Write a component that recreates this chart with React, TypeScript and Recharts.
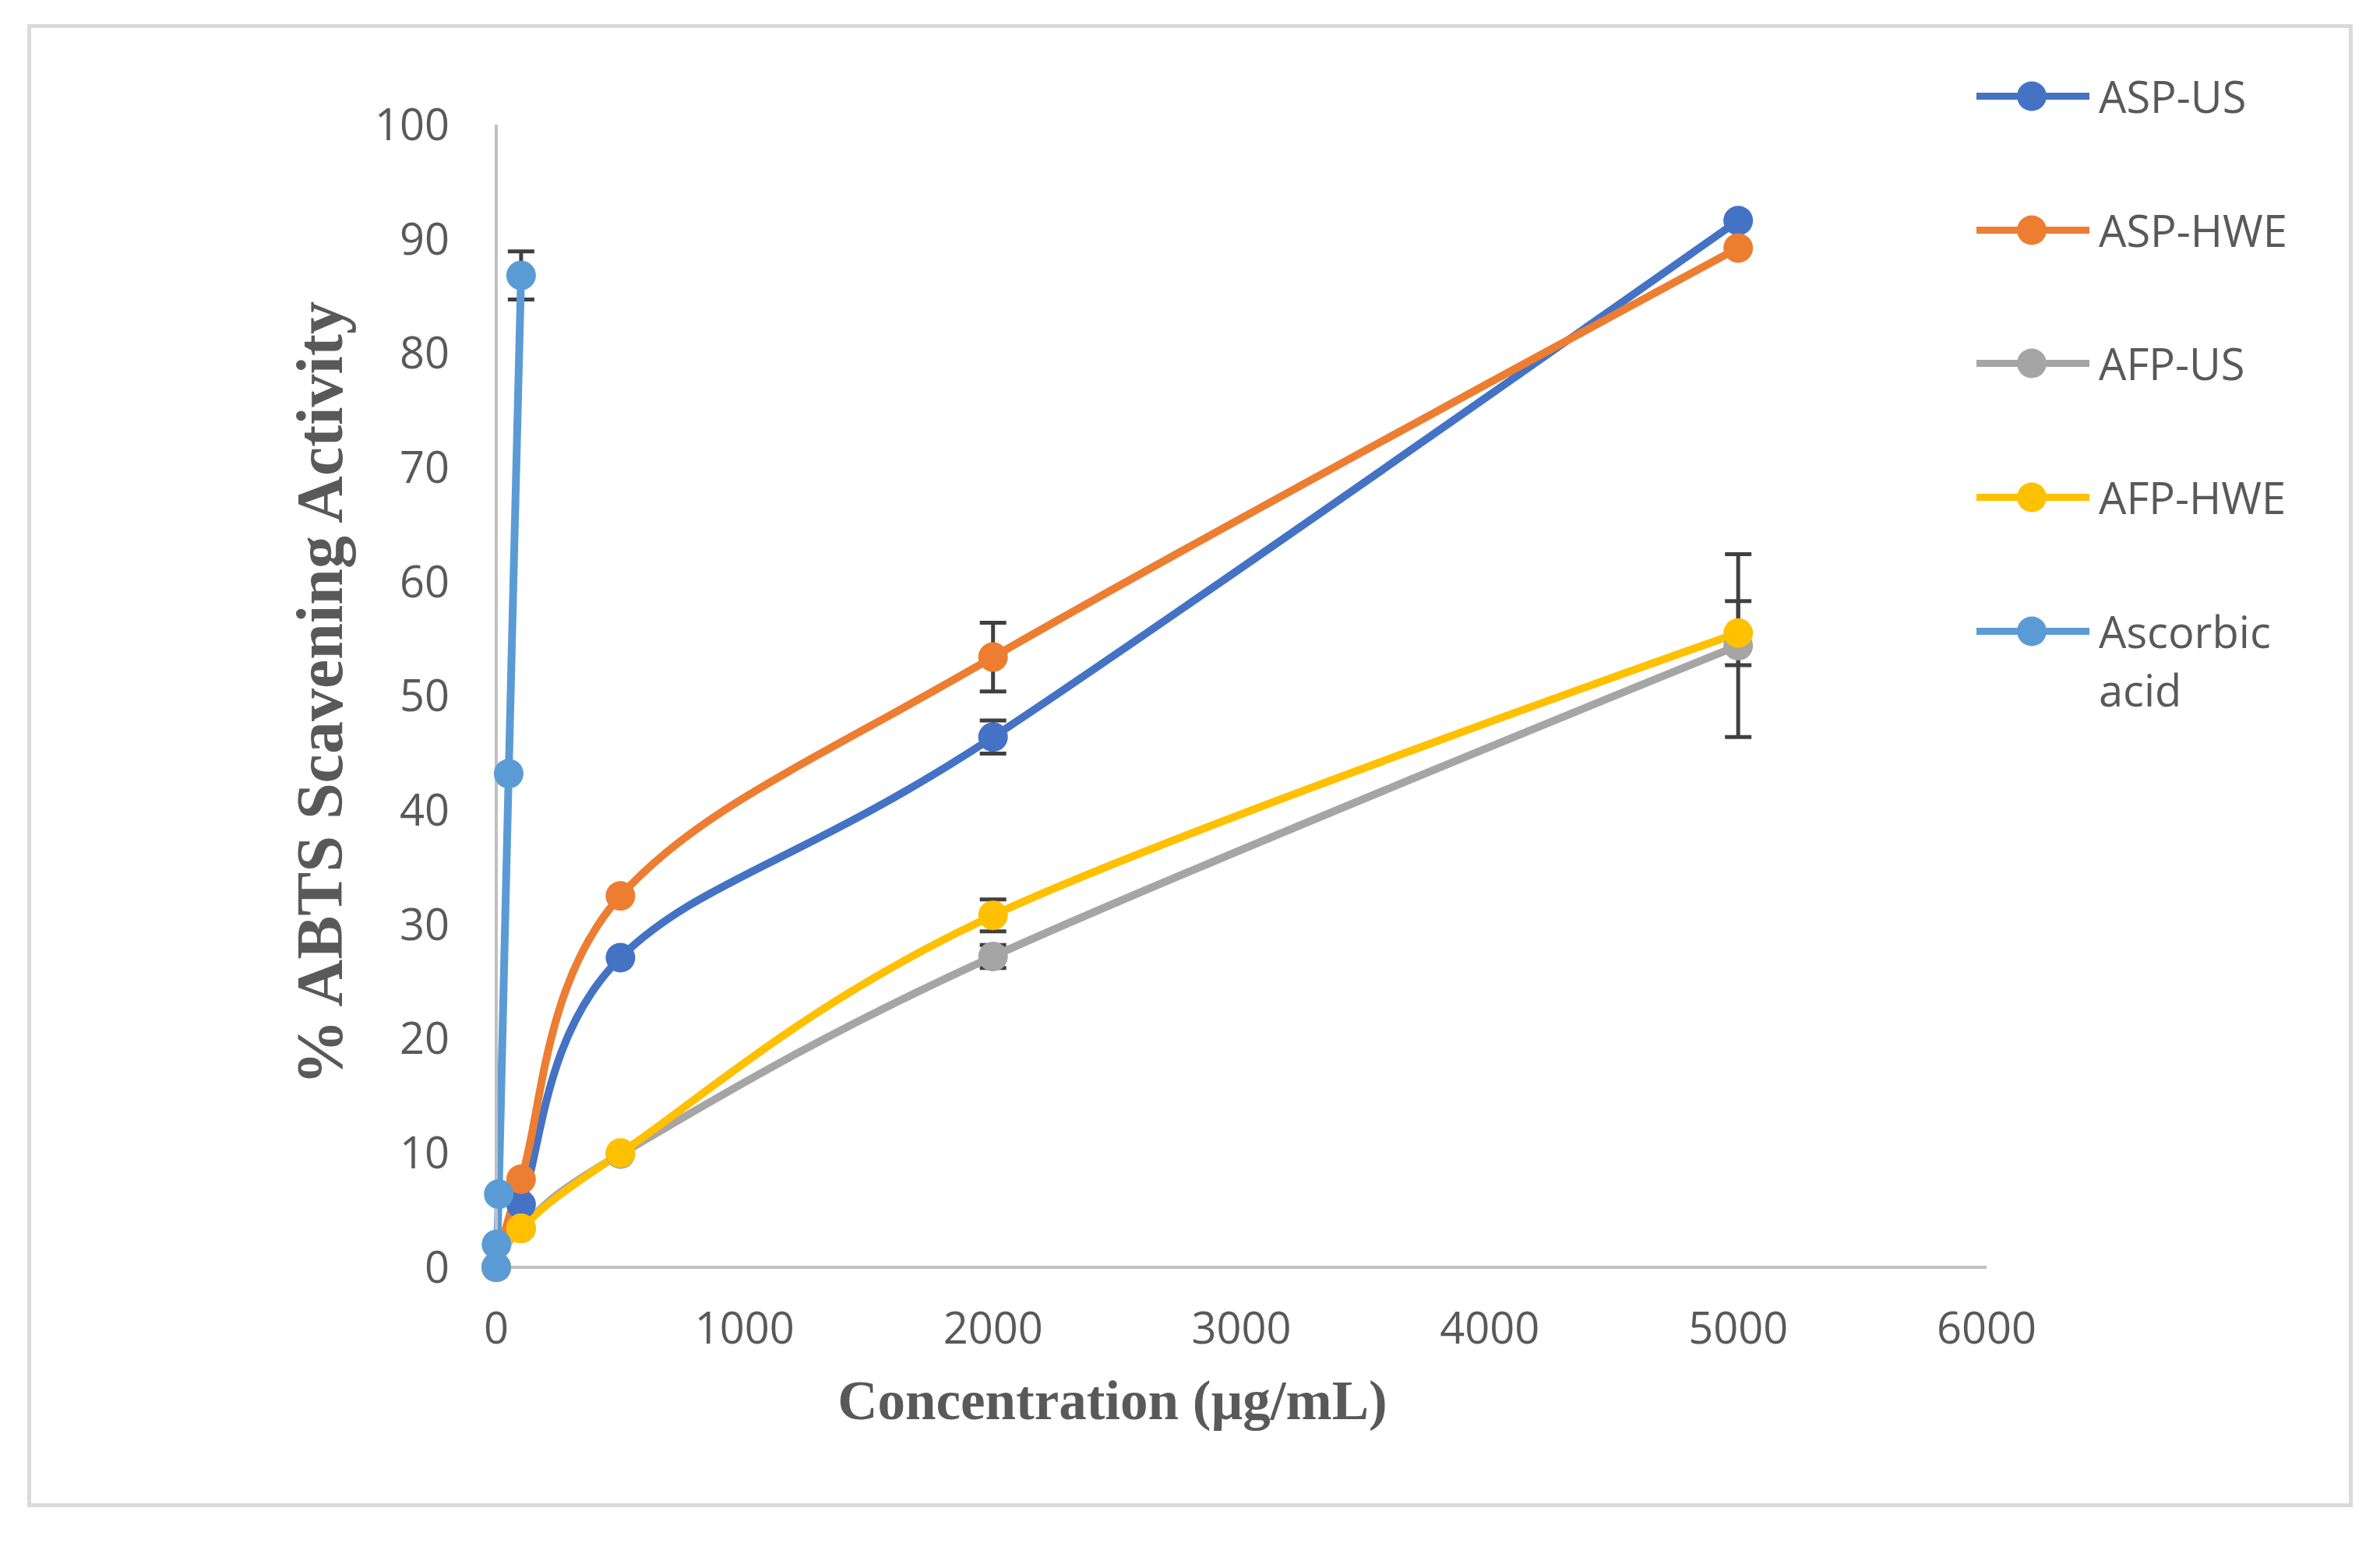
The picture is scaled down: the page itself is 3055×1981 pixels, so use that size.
import React from 'react';
import {
  LineChart,
  Line,
  XAxis,
  YAxis,
  ErrorBar,
  Legend,
  Label,
} from 'recharts';

// concentrations (µg/mL)
const sampleConc = [0, 100, 500, 2000, 5000];
const ascorbicConc = [0, 1, 10, 50, 100];

// % ABTS scavenging activity
const aspUs = [0, 5.5, 27.1, 46.4, 91.6];
const aspHwe = [0, 7.7, 32.5, 53.4, 89.2];
const afpUs = [0, 3.4, 9.9, 27.2, 54.4];
const afpHwe = [0, 3.4, 10.0, 30.8, 55.5];
const ascorbic = [0, 2.0, 6.4, 43.2, 86.8];

// standard deviations
const aspUsErr = [0, 0, 0, 1.45, 0];
const aspHweErr = [0, 0, 0, 3.0, 0];
const afpUsErr = [0, 0, 0, 1.0, 8.0];
const afpHweErr = [0, 0, 0, 1.4, 2.8];
const ascorbicErr = [0, 0, 0, 0, 2.1];

const xTicks = [0, 1000, 2000, 3000, 4000, 5000, 6000];
const yTicks = [0, 10, 20, 30, 40, 50, 60, 70, 80, 90, 100];

const toRows = (xs: number[], ys: number[], es: number[]) =>
  xs.map((x, i) => ({ x, y: ys[i], err: es[i] }));

const series = [
  { name: 'ASP-US', color: '#4472C4', data: toRows(sampleConc, aspUs, aspUsErr) },
  { name: 'ASP-HWE', color: '#ED7D31', data: toRows(sampleConc, aspHwe, aspHweErr) },
  { name: 'AFP-US', color: '#A5A5A5', data: toRows(sampleConc, afpUs, afpUsErr) },
  { name: 'AFP-HWE', color: '#FFC000', data: toRows(sampleConc, afpHwe, afpHweErr) },
  { name: 'Ascorbic acid', color: '#5B9BD5', data: toRows(ascorbicConc, ascorbic, ascorbicErr) },
];

// Catmull-Rom style smoothing, close to Excel's "smoothed line"
function Cardinal(this: any, context: any) {
  this._context = context;
  this._k = 1 / 6;
}
const bez = (that: any, x: number, y: number) => {
  that._context.bezierCurveTo(
    that._x1 + that._k * (that._x2 - that._x0),
    that._y1 + that._k * (that._y2 - that._y0),
    that._x2 + that._k * (that._x1 - x),
    that._y2 + that._k * (that._y1 - y),
    that._x2,
    that._y2
  );
};
Cardinal.prototype = {
  areaStart() { this._line = 0; },
  areaEnd() { this._line = NaN; },
  lineStart() {
    this._x0 = this._x1 = this._x2 = this._y0 = this._y1 = this._y2 = NaN;
    this._point = 0;
  },
  lineEnd() {
    switch (this._point) {
      case 2: this._context.lineTo(this._x2, this._y2); break;
      case 3: bez(this, this._x1, this._y1); break;
    }
    if (this._line || (this._line !== 0 && this._point === 1)) this._context.closePath();
    this._line = 1 - this._line;
  },
  point(x: number, y: number) {
    x = +x; y = +y;
    switch (this._point) {
      case 0:
        this._point = 1;
        this._line ? this._context.lineTo(x, y) : this._context.moveTo(x, y);
        break;
      case 1: this._point = 2; this._x1 = x; this._y1 = y; break;
      case 2: this._point = 3; // falls through
      default: bez(this, x, y); break;
    }
    this._x0 = this._x1; this._x1 = this._x2; this._x2 = x;
    this._y0 = this._y1; this._y1 = this._y2; this._y2 = y;
  },
};
const smooth: any = (context: any) => new (Cardinal as any)(context);

const tickStyle = { fill: '#595959', fontSize: 56, fontFamily: 'Open Sans' };

const renderLegend = () => (
  <div style={{ fontFamily: 'Open Sans', fontSize: 56, color: '#595959', textAlign: 'left' }}>
    {series.map((s) => (
      <div key={s.name} style={{ display: 'flex', alignItems: 'flex-start', height: 171.7 }}>
        <svg width={145} height={75} style={{ flex: 'none' }}>
          <line x1={0} y1={37.5} x2={145} y2={37.5} stroke={s.color} strokeWidth={9} strokeLinecap="round" />
          <circle cx={71} cy={37.5} r={19} fill={s.color} />
        </svg>
        <div style={{ marginLeft: 12, lineHeight: '75px', width: 290 }}>{s.name}</div>
      </div>
    ))}
  </div>
);

const App: React.FC = () => {
  return (
    <div style={{ position: 'absolute', left: 0, top: 0, width: 3055, height: 1981, background: '#fff' }}>
      <div
        style={{
          position: 'absolute',
          left: 35,
          top: 31,
          width: 2985,
          height: 1904,
          border: '5px solid #dadada',
          boxSizing: 'border-box',
        }}
      />
      <div style={{ position: 'absolute', left: 0, top: 0 }}>
        <LineChart
          width={3055}
          height={1981}
          margin={{ top: 160, right: 505, left: 437, bottom: 204 }}
        >
          <XAxis
            dataKey="x"
            type="number"
            domain={[0, 6000]}
            ticks={xTicks}
            allowDuplicatedCategory={false}
            height={150}
            tickLine={false}
            tickSize={0}
            tickMargin={58}
            axisLine={{ stroke: '#c0c0c0', strokeWidth: 4 }}
            tick={tickStyle}
          >
            <Label
              content={() => (
                <text
                  x={1428}
                  y={1822}
                  textAnchor="middle"
                  fill="#595959"
                  fontFamily="Liberation Serif"
                  fontWeight="bold"
                  fontSize={71}
                >
                  Concentration (µg/mL)
                </text>
              )}
            />
          </XAxis>
          <YAxis
            type="number"
            domain={[0, 100]}
            ticks={yTicks}
            width={200}
            tickLine={false}
            tickSize={0}
            tickMargin={60}
            axisLine={{ stroke: '#c0c0c0', strokeWidth: 4 }}
            tick={tickStyle}
          >
            <Label
              content={() => (
                <text
                  x={439}
                  y={890}
                  transform="rotate(-90 439 890)"
                  textAnchor="middle"
                  fill="#595959"
                  fontFamily="Liberation Serif"
                  fontWeight="bold"
                  fontSize={84}
                >
                  % ABTS Scavening Activity
                </text>
              )}
            />
          </YAxis>
          <Legend
            content={renderLegend}
            layout="vertical"
            verticalAlign="middle"
            align="center"
            wrapperStyle={{ position: 'absolute', left: 2537, top: 86, width: 480 }}
          />
          {series.map((s) => (
            <Line
              key={s.name}
              name={s.name}
              data={s.data}
              dataKey="y"
              type={smooth}
              stroke={s.color}
              strokeWidth={10}
              dot={{ r: 19, fill: s.color, stroke: s.color, strokeWidth: 0 }}
              activeDot={false}
              isAnimationActive={false}
            >
              <ErrorBar dataKey="err" direction="y" width={17} stroke="#404040" strokeWidth={5} />
            </Line>
          ))}
        </LineChart>
      </div>
    </div>
  );
};

export default App;
